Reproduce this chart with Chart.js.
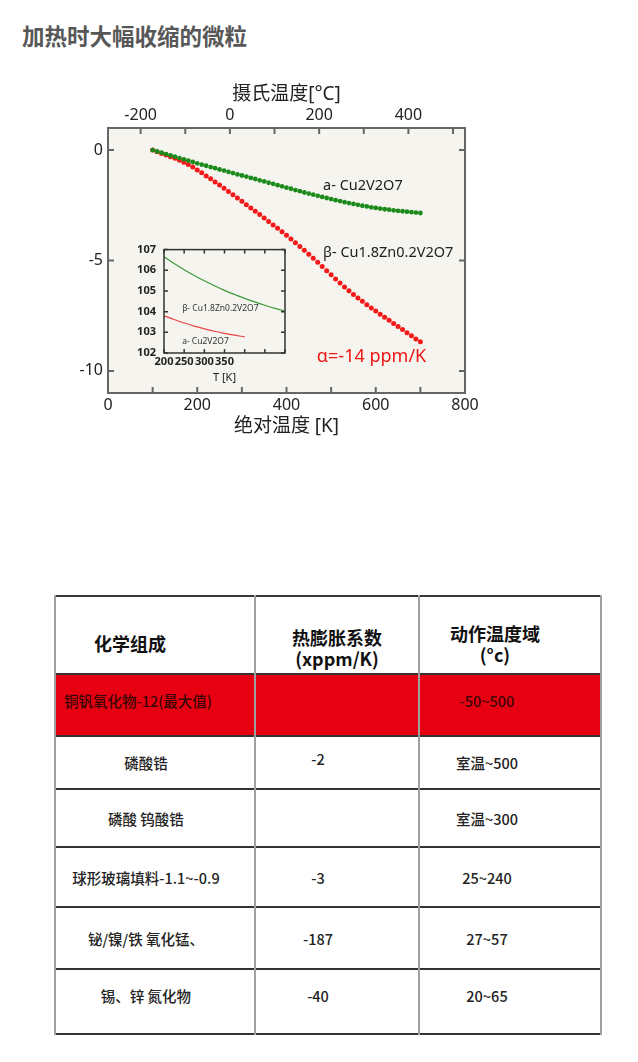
<!DOCTYPE html>
<html>
<head>
<meta charset="utf-8">
<title>加热时大幅收缩的微粒</title>
<script src="https://cdn.jsdelivr.net/npm/chart.js@4/dist/chart.umd.min.js"></script>
<style>
body { margin:0; width:638px; height:1062px; position:relative; background:#fff;
       font-family:"Noto Sans CJK SC","Noto Sans",sans-serif; overflow:hidden; }
h1 { position:absolute; left:22px; top:20px; margin:0; font-size:22.5px; line-height:30px; color:#575757; font-weight:bold; }
#main { position:absolute; left:0; top:70px; }
#inset { position:absolute; left:120px; top:235px; }
table { position:absolute; left:54px; top:595px; width:546px; border-collapse:collapse; table-layout:fixed;
        border:2px solid #3a3a3a; }
th, td { border-left:2px solid #a0a0a0; border-right:2px solid #a0a0a0; text-align:center; padding:0; color:#222; }
tr { border-bottom:2px solid #333; }
th { font-size:18px; line-height:21px; font-weight:bold; color:#111; padding-top:17px; }
th.c1 { padding-right:50px; }
th.c2 { padding-top:25px; }
th.c3 { padding-right:30px; }
td { font-size:14.5px; font-weight:500; }
td.c1 { padding-right:18px; }
td.c2 { padding-right:38px; }
td.c3 { padding-right:46px; }
tr.hl td { background:#e60012; color:#3a0505; padding-bottom:10px; }
tr.hl td.left { text-align:left; padding-left:8px; padding-right:0; }
</style>
</head>
<body>
<h1>加热时大幅收缩的微粒</h1>
<canvas id="main" width="638" height="380"></canvas>
<canvas id="inset" width="175" height="160"></canvas>

<table>
  <colgroup><col style="width:200px"><col style="width:164px"><col style="width:182px"></colgroup>
  <tr style="height:78px"><th class="c1">化学组成</th><th class="c2">热膨胀系数<br>(xppm/K)</th><th class="c3">动作温度域<br>(°c)</th></tr>
  <tr class="hl" style="height:62px"><td class="left">铜钒氧化物-12(最大值)</td><td></td><td class="c3">-50~500</td></tr>
  <tr style="height:53px"><td class="c1">磷酸锆</td><td class="c2" style="padding-bottom:8px">-2</td><td class="c3">室温~500</td></tr>
  <tr style="height:58px"><td class="c1">磷酸 钨酸锆</td><td class="c2"></td><td class="c3">室温~300</td></tr>
  <tr style="height:60px"><td class="c1">球形玻璃填料-1.1~-0.9</td><td class="c2">-3</td><td class="c3">25~240</td></tr>
  <tr style="height:62px"><td class="c1">铋/镍/铁 氧化锰、</td><td class="c2">-187</td><td class="c3">27~57</td></tr>
  <tr style="height:65px"><td class="c1" style="padding-bottom:12px">锡、锌 氮化物</td><td class="c2" style="padding-bottom:12px">-40</td><td class="c3" style="padding-bottom:12px">20~65</td></tr>
</table>

<script>
// main chart: relative length change vs absolute temperature
const kelvin = [100,110,120,130,140,150,160,170,180,190,200,210,220,230,240,250,260,270,280,290,
                300,310,320,330,340,350,360,370,380,390,400,410,420,430,440,450,460,470,480,490,
                500,510,520,530,540,550,560,570,580,590,600,610,620,630,640,650,660,670,680,690,700];
const alphaCu = [0.00,-0.06,-0.12,-0.18,-0.24,-0.30,-0.36,-0.42,-0.48,-0.54,-0.60,-0.66,-0.71,-0.77,-0.82,
                 -0.88,-0.93,-0.99,-1.04,-1.10,-1.15,-1.20,-1.26,-1.31,-1.37,-1.42,-1.48,-1.53,-1.59,-1.64,
                 -1.70,-1.75,-1.81,-1.86,-1.92,-1.97,-2.02,-2.07,-2.12,-2.17,-2.22,-2.27,-2.31,-2.36,-2.40,
                 -2.44,-2.48,-2.52,-2.55,-2.59,-2.62,-2.65,-2.68,-2.70,-2.73,-2.75,-2.77,-2.79,-2.81,-2.83,-2.85];
const betaCuZn = [0.00,-0.07,-0.15,-0.22,-0.30,-0.37,-0.46,-0.55,-0.65,-0.77,-0.90,-1.03,-1.17,-1.30,-1.44,
                  -1.58,-1.73,-1.88,-2.02,-2.17,-2.32,-2.47,-2.62,-2.77,-2.92,-3.08,-3.23,-3.39,-3.54,-3.70,
                  -3.86,-4.03,-4.20,-4.37,-4.54,-4.72,-4.90,-5.08,-5.27,-5.46,-5.65,-5.84,-6.02,-6.20,-6.37,
                  -6.54,-6.70,-6.85,-7.00,-7.15,-7.29,-7.43,-7.57,-7.71,-7.85,-7.99,-8.13,-8.27,-8.41,-8.55,-8.68];
const yTicks = [0, -5, -10];
const celsiusTicks = [-200, -100, 0, 100, 200, 300, 400, 500];

// inset chart
const insetT = [200,225,250,275,300,325,350,375,400,425,450,475,500];
const insetGreen = [106.65,106.33,106.03,105.75,105.49,105.25,105.03,104.83,104.64,104.47,104.31,104.16,104.03];
const insetRed = [103.80,103.62,103.45,103.30,103.17,103.05,102.95,102.86,102.78];

const FONT = '"Noto Sans","Noto Sans CJK SC",sans-serif';
const BG = '#f5f4ee';

// beige plot area + frame + inward ticks
const framePlugin = {
  id: 'frame',
  beforeDraw(chart, args, o) {
    const a = chart.chartArea, ctx = chart.ctx;
    ctx.save();
    ctx.fillStyle = o.bg;
    ctx.fillRect(a.left, a.top, a.right - a.left, a.bottom - a.top);
    ctx.restore();
  },
  afterDraw(chart, args, o) {
    const a = chart.chartArea, ctx = chart.ctx, s = chart.scales;
    ctx.save();
    ctx.strokeStyle = o.color;
    ctx.lineWidth = o.width;
    ctx.beginPath();
    (o.bottom || []).forEach(id => s[id].ticks.forEach(t => {
      const x = s[id].getPixelForValue(t.value);
      ctx.moveTo(x, a.bottom); ctx.lineTo(x, a.bottom - o.len);
    }));
    (o.top || []).forEach(id => s[id].ticks.forEach(t => {
      const x = s[id].getPixelForValue(t.value);
      ctx.moveTo(x, a.top); ctx.lineTo(x, a.top + o.len);
    }));
    (o.sides || []).forEach(id => s[id].ticks.forEach(t => {
      const y = s[id].getPixelForValue(t.value);
      ctx.moveTo(a.left, y); ctx.lineTo(a.left + o.len, y);
      ctx.moveTo(a.right, y); ctx.lineTo(a.right - o.len, y);
    }));
    ctx.stroke();
    ctx.strokeRect(a.left, a.top, a.right - a.left, a.bottom - a.top);
    ctx.restore();
  }
};

// text labels placed in data coordinates
const notesPlugin = {
  id: 'notes',
  afterDatasetsDraw(chart, args, o) {
    const ctx = chart.ctx, sx = chart.scales.x, sy = chart.scales.y;
    ctx.save();
    ctx.textBaseline = 'middle';
    ctx.textAlign = 'left';
    o.items.forEach(n => {
      ctx.font = n.font;
      ctx.fillStyle = n.color;
      ctx.fillText(n.text, sx.getPixelForValue(n.x), sy.getPixelForValue(n.y));
    });
    ctx.restore();
  }
};

new Chart(document.getElementById('main'), {
  type: 'scatter',
  data: {
    labels: kelvin,
    datasets: [
      { label: 'a- Cu2V2O7', data: kelvin.map((k, i) => ({x: k, y: alphaCu[i]})),
        backgroundColor: '#1b8a1b', borderWidth: 0, pointRadius: 2.4 },
      { label: 'β- Cu1.8Zn0.2V2O7', data: kelvin.map((k, i) => ({x: k, y: betaCuZn[i]})),
        backgroundColor: '#f51818', borderWidth: 0, pointRadius: 2.5 }
    ]
  },
  options: {
    responsive: false,
    animation: false,
    layout: { padding: { left: 68, right: 173, top: 8, bottom: 7 } },
    plugins: {
      legend: { display: false },
      tooltip: { enabled: false },
      frame: { bg: BG, color: '#666', width: 2, len: 6, bottom: ['x'], top: ['x2'], sides: ['y'] },
      notes: { items: [
        { text: 'a- Cu2V2O7', x: 482, y: -1.6, font: '14.5px ' + FONT, color: '#222' },
        { text: 'β- Cu1.8Zn0.2V2O7', x: 482, y: -4.66, font: '14.5px ' + FONT, color: '#222' },
        { text: 'α=-14 ppm/K', x: 468, y: -9.37, font: '18px ' + FONT, color: '#f01414' }
      ] }
    },
    scales: {
      x: {
        type: 'linear', position: 'bottom', min: 0, max: 800,
        grid: { display: false, drawTicks: false }, border: { display: false },
        afterFit: s => { s.height = 50; },
        ticks: { stepSize: 100, autoSkip: false, maxRotation: 0, padding: 3, color: '#222',
                 font: { family: FONT, size: 16 }, callback: v => v % 200 === 0 ? String(v) : '' },
        title: { display: true, text: '绝对温度 [K]', color: '#222', padding: { top: 4, bottom: 5 },
                 font: { family: FONT, size: 19 } }
      },
      x2: {
        type: 'linear', position: 'top', min: -273.15, max: 526.85,
        grid: { display: false, drawTicks: false }, border: { display: false },
        afterBuildTicks: s => { s.ticks = celsiusTicks.map(v => ({ value: v })); },
        afterFit: s => { s.height = 50; },
        ticks: { autoSkip: false, maxRotation: 0, padding: 3, color: '#222',
                 font: { family: FONT, size: 16 }, callback: v => v % 200 === 0 ? String(v) : '' },
        title: { display: true, text: '摄氏温度[°C]', color: '#222', padding: { top: 5, bottom: 4 },
                 font: { family: FONT, size: 19 } }
      },
      y: {
        type: 'linear', min: -11, max: 1,
        grid: { display: false, drawTicks: false }, border: { display: false },
        afterBuildTicks: s => { s.ticks = yTicks.map(v => ({ value: v })); },
        afterFit: s => { s.width = 40; },
        ticks: { padding: 5, color: '#222', font: { family: FONT, size: 16 }, callback: v => String(v) }
      }
    }
  },
  plugins: [framePlugin, notesPlugin]
});

new Chart(document.getElementById('inset'), {
  type: 'line',
  data: {
    datasets: [
      { data: insetT.map((t, i) => ({x: t, y: insetGreen[i]})), borderColor: '#3b9a3b', borderWidth: 1.2,
        pointRadius: 0, tension: 0.4 },
      { data: insetRed.map((r, i) => ({x: insetT[i], y: r})), borderColor: '#e84545', borderWidth: 1.2,
        pointRadius: 0, tension: 0.4 }
    ]
  },
  options: {
    responsive: false,
    animation: false,
    layout: { padding: { left: 14, right: 10, top: 12, bottom: 0 } },
    plugins: {
      legend: { display: false },
      tooltip: { enabled: false },
      frame: { bg: BG, color: '#333', width: 1.5, len: 4, bottom: ['x'], top: ['x'], sides: ['y'] },
      notes: { items: [
        { text: 'β- Cu1.8Zn0.2V2O7', x: 245, y: 104.14, font: '8.5px ' + FONT, color: '#333' },
        { text: 'a- Cu2V2O7', x: 245, y: 102.53, font: '8.5px ' + FONT, color: '#333' }
      ] }
    },
    scales: {
      x: {
        type: 'linear', min: 200, max: 500,
        grid: { display: false, drawTicks: false }, border: { display: false },
        afterFit: s => { s.height = 42; },
        ticks: { stepSize: 50, autoSkip: false, maxRotation: 0, padding: 2, color: '#222',
                 font: { family: FONT, size: 11, weight: 'bold' }, callback: v => v <= 350 ? String(v) : '' },
        title: { display: true, text: 'T [K]', color: '#222', padding: { top: 2, bottom: 11 },
                 font: { family: FONT, size: 11 } }
      },
      y: {
        type: 'linear', min: 102, max: 107,
        grid: { display: false, drawTicks: false }, border: { display: false },
        afterFit: s => { s.width = 30; },
        ticks: { stepSize: 1, padding: 8, color: '#222', font: { family: FONT, size: 11, weight: 'bold' } }
      }
    }
  },
  plugins: [framePlugin, notesPlugin]
});
</script>
</body>
</html>
